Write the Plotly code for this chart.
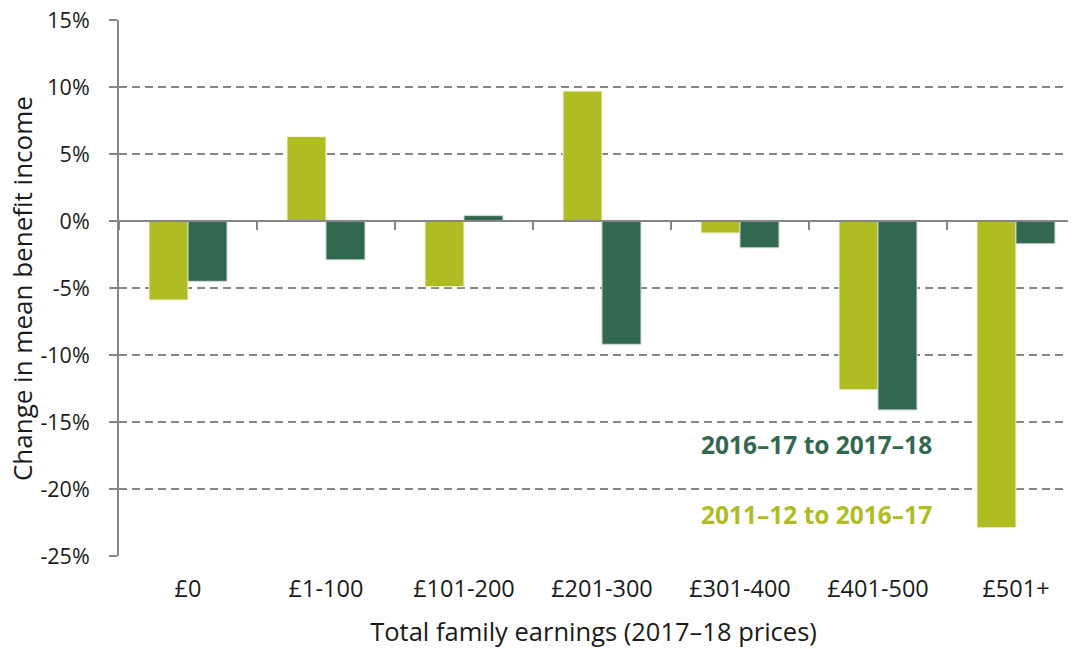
import plotly.graph_objects as go

# Weekly family earnings bands (2017-18 prices)
categories = ["£0", "£1-100", "£101-200", "£201-300", "£301-400", "£401-500", "£501+"]

# Percentage change in mean benefit income
change_2011_to_2016 = [-5.9, 6.3, -4.9, 9.7, -0.9, -12.6, -22.9]
change_2016_to_2017 = [-4.5, -2.9, 0.4, -9.2, -2.0, -14.1, -1.7]

y_ticks = [15, 10, 5, 0, -5, -10, -15, -20, -25]
y_tick_labels = [f"{v}%" for v in y_ticks]

LIGHT = "#AFBC22"
DARK = "#336850"
GREY = "#868686"
TEXT = "#1a1a1a"
FONT = "Open Sans"

fig = go.Figure()
fig.add_trace(go.Bar(
    x=categories, y=change_2011_to_2016, name="2011–12 to 2016–17",
    marker=dict(color=LIGHT, line=dict(color="#f4f6e0", width=1)),
))
fig.add_trace(go.Bar(
    x=categories, y=change_2016_to_2017, name="2016–17 to 2017–18",
    marker=dict(color=DARK, line=dict(color="#c9d6cf", width=1)),
))
# Invisible trace that carries the category axis drawn along the zero line
fig.add_trace(go.Scatter(
    x=categories, y=[0] * len(categories), xaxis="x2", mode="markers",
    marker=dict(opacity=0), hoverinfo="skip", showlegend=False,
))

x_range = [-0.5, 6.377]

fig.update_layout(
    width=1072, height=649,
    margin=dict(l=119, r=4, t=20, b=93),
    paper_bgcolor="white", plot_bgcolor="white",
    barmode="group", bargap=0.435, bargroupgap=0,
    showlegend=False,
    font=dict(family=FONT, size=22, color=TEXT),
    xaxis=dict(
        type="category", categoryorder="array", categoryarray=categories,
        range=x_range, showgrid=False, showline=False, zeroline=False,
        ticks="", ticklabelstandoff=16,
        tickfont=dict(family=FONT, size=23.5, color=TEXT),
        title=dict(text="Total family earnings (2017–18 prices)",
                   font=dict(family=FONT, size=25.5, color=TEXT), standoff=20),
    ),
    xaxis2=dict(
        type="category", categoryorder="array", categoryarray=categories,
        range=x_range, overlaying="x", anchor="free", position=0.625,
        showline=True, linecolor=GREY, linewidth=2,
        ticks="outside", tickson="boundaries", ticklen=8, tickwidth=2, tickcolor=GREY,
        showticklabels=False, showgrid=False, zeroline=False,
    ),
    yaxis=dict(
        range=[-25, 15], tickvals=y_ticks, ticktext=y_tick_labels,
        showgrid=True, gridcolor=GREY, gridwidth=1.8, griddash="8px,5px",
        zeroline=False, showline=True, linecolor=GREY, linewidth=2,
        ticks="outside", ticklen=8, tickwidth=2, tickcolor=GREY,
        ticklabelstandoff=15,
        tickfont=dict(family=FONT, size=21.5, color=TEXT),
    ),
    annotations=[
        dict(text="Change in mean benefit income", xref="paper", yref="paper",
             x=-0.1022, y=0.498, xanchor="center", yanchor="middle", textangle=-90,
             showarrow=False, font=dict(family=FONT, size=26, color=TEXT)),
        dict(text="<b>2016–17 to 2017–18</b>", xref="paper", yref="y",
             x=0.7355, y=-16.7, xanchor="center", yanchor="middle", showarrow=False,
             font=dict(family=FONT, size=24.5, color=DARK)),
        dict(text="<b>2011–12 to 2016–17</b>", xref="paper", yref="y",
             x=0.7355, y=-21.9, xanchor="center", yanchor="middle", showarrow=False,
             font=dict(family=FONT, size=24.5, color=LIGHT)),
    ],
)

fig.write_html("out.html")
